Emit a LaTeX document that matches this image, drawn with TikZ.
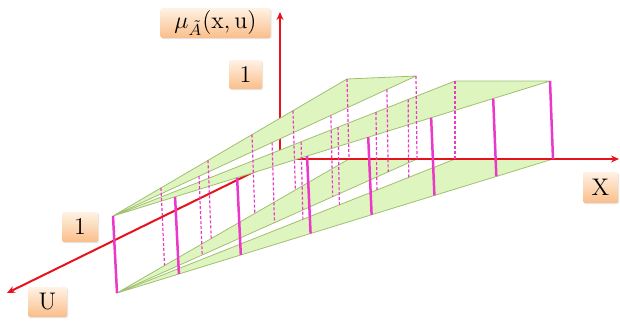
\documentclass[tikz,border=0pt]{standalone}
\usepackage{amsmath}
\usepackage{amssymb}
\usepackage{tikz}
\usetikzlibrary{calc,arrows.meta,shadows}

\definecolor{stripfill}{RGB}{223,245,192}
\definecolor{stripedge}{RGB}{160,192,112}
\definecolor{slice}{RGB}{236,56,200}
\definecolor{axisred}{RGB}{230,18,28}
\definecolor{boxtop}{RGB}{255,242,228}
\definecolor{boxbot}{RGB}{250,190,138}

\begin{document}
\begin{tikzpicture}[x=0.5pt,y=-0.5pt,
  strip/.style={fill=stripfill,draw=stripedge,line width=0.4pt,line join=round},
  axis/.style={draw=axisred,line width=1pt,-{Stealth[length=4pt,width=3.5pt]}},
  front/.style={draw=slice,line width=1.25pt},
  back/.style={draw=slice,line width=0.6pt,dash pattern=on 1.5pt off 1pt},
  lbl/.style={top color=boxtop,bottom color=boxbot,rounded corners=1pt,inner sep=0pt,
    drop shadow={shadow xshift=0.5pt,shadow yshift=-0.5pt,opacity=0.2},
    font=\fontsize{12}{14}\selectfont}]
\useasboundingbox (0,0) rectangle (620,322);

\coordinate (O) at (280,159);
\coordinate (ztip) at (280,12);
\coordinate (xtip) at (619,159);
\coordinate (utip) at (7,293);
% apex of the upper and lower surfaces
\coordinate (A1) at (113,216);
\coordinate (A2) at (117,293);
\coordinate (P1) at (347,79);
\coordinate (P2) at (416,76);
\coordinate (P3) at (455,81);
\coordinate (P4) at (550,81);
\coordinate (Q1) at (349,159);
\coordinate (Q2) at (417,159);
\coordinate (Q3) at (455,159);
\coordinate (Q4) at (553,159);

% lower surface
\filldraw[strip] (A2) -- (Q1) -- (Q2) -- cycle;
\filldraw[strip] (A2) -- (Q3) -- (Q4) -- cycle;

\draw[axis] (O) -- (xtip);
\draw[axis] (O) -- (utip);
\draw[axis] (O) -- (ztip);

% upper surface
\filldraw[strip] (A1) -- (P1) -- (P2) -- cycle;
\filldraw[strip] (A1) -- (P3) -- (P4) -- cycle;

% vertical slices
\foreach \t in {0.205,0.406,0.594,0.769,1}
  \draw[back] ($(A1)!\t!(P1)$) -- ($(A2)!\t!(Q1)$);
\foreach \t in {0.284,0.525,0.719,0.904,1}
  \draw[back] ($(A1)!\t!(P2)$) -- ($(A2)!\t!(Q2)$);
\foreach \t in {0.55,0.658,0.769,0.863,1}
  \draw[back] ($(A1)!\t!(P3)$) -- ($(A2)!\t!(Q3)$);
\foreach \t in {0,0.142,0.284,0.444,0.584,0.728,0.870,1}
  \draw[front] ($(A1)!\t!(P4)$) -- ($(A2)!\t!(Q4)$);

\node[lbl,minimum width=55pt,minimum height=15pt] (mulbl) at (215.5,23) {$\mu_{\tilde{A}}(\mathrm{x},\mathrm{u})$};
\node[lbl,minimum width=16.5pt,minimum height=14.5pt] (onez) at (245.5,74.5) {1};
\node[lbl,minimum width=18pt,minimum height=15pt] (oneu) at (80,227) {1};
\node[lbl,minimum width=19.5pt,minimum height=15pt] (ulbl) at (47.5,302) {U};
\node[lbl,minimum width=17.5pt,minimum height=15.5pt] (xlbl) at (600.5,187.5) {X};
\end{tikzpicture}
\end{document}
